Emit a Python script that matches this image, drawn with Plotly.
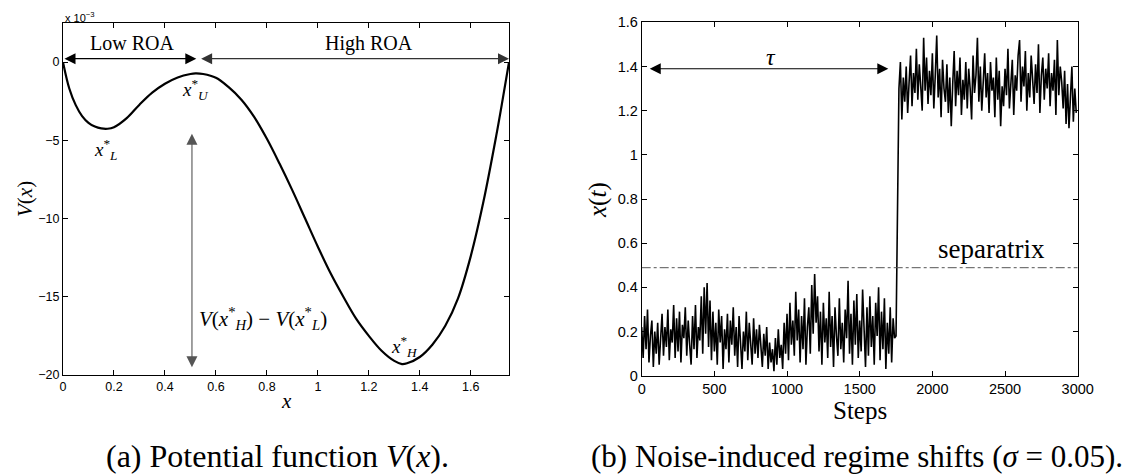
import plotly.graph_objects as go

W0, H0 = 1131, 476
OFF = 8  # page body margin
W, H = W0 - OFF, H0 - OFF

# (a) potential function, V in units of 1e-3
pot_x = [0, 0.025, 0.05, 0.075, 0.1, 0.125, 0.15, 0.175, 0.2, 0.25, 0.3, 0.35, 0.4, 0.45,
         0.5, 0.52, 0.55, 0.6, 0.65, 0.7, 0.75, 0.8, 0.85, 0.9, 0.95, 1.0, 1.05, 1.1, 1.15,
         1.2, 1.25, 1.3, 1.33, 1.35, 1.4, 1.45, 1.5, 1.55, 1.6, 1.65, 1.7, 1.725, 1.75]
pot_v = [0, -1.7, -2.75, -3.45, -3.88, -4.12, -4.24, -4.26, -4.16, -3.58, -2.72, -1.95, -1.38, -0.98,
         -0.76, -0.72, -0.76, -1.0, -1.6, -2.4, -3.5, -4.9, -6.5, -8.2, -10.0, -11.8, -13.5, -15.0, -16.4,
         -17.5, -18.45, -19.1, -19.3, -19.25, -18.85, -18.05, -16.85, -15.1, -12.4, -8.9, -4.7, -2.4, 0]

# (b) simulated trajectory, one value every 10 steps
steps = list(range(0, 3000, 10))
x_t = [
    0.22, 0.08, 0.27, 0.12, 0.30, 0.06, 0.18, 0.25, 0.04, 0.20,
    0.10, 0.24, 0.05, 0.19, 0.28, 0.09, 0.22, 0.13, 0.30, 0.07,
    0.21, 0.15, 0.32, 0.08, 0.26, 0.11, 0.29, 0.06, 0.23, 0.17,
    0.31, 0.09, 0.25, 0.14, 0.05, 0.27, 0.12, 0.32, 0.08, 0.22,
    0.16, 0.36, 0.10, 0.40, 0.19, 0.42, 0.13, 0.34, 0.07, 0.29,
    0.11, 0.24, 0.05, 0.30, 0.15, 0.27, 0.03, 0.21, 0.12, 0.28,
    0.06, 0.25, 0.14, 0.31, 0.09, 0.22, 0.04, 0.27, 0.16, 0.03,
    0.20, 0.11, 0.29, 0.07, 0.24, 0.13, 0.05, 0.26, 0.10, 0.21,
    0.08, 0.23, 0.14, 0.04, 0.19, 0.09, 0.22, 0.03, 0.15, 0.06,
    0.12, 0.02, 0.17, 0.05, 0.21, 0.08, 0.14, 0.03, 0.24, 0.10,
    0.28, 0.07, 0.33, 0.14, 0.25, 0.09, 0.38, 0.16, 0.30, 0.06,
    0.27, 0.12, 0.35, 0.05, 0.22, 0.31, 0.10, 0.41, 0.19, 0.46,
    0.24, 0.36, 0.11, 0.29, 0.05, 0.33, 0.15, 0.26, 0.08, 0.38,
    0.13, 0.27, 0.04, 0.31, 0.18, 0.09, 0.35, 0.12, 0.24, 0.06,
    0.30, 0.17, 0.43, 0.10, 0.28, 0.05, 0.34, 0.14, 0.37, 0.08,
    0.25, 0.11, 0.39, 0.16, 0.04, 0.31, 0.09, 0.36, 0.13, 0.27,
    0.05, 0.33, 0.18, 0.40, 0.07, 0.29, 0.12, 0.35, 0.03, 0.24,
    0.10, 0.31, 0.06, 0.26, 0.17, 0.18, 0.85, 1.30, 1.42, 1.16,
    1.35, 1.24, 1.40, 1.19, 1.33, 1.45, 1.22, 1.37, 1.28, 1.48,
    1.25, 1.41, 1.31, 1.20, 1.53, 1.29, 1.44, 1.23, 1.38, 1.27,
    1.46, 1.21, 1.36, 1.54, 1.26, 1.39, 1.17, 1.43, 1.30, 1.24,
    1.41, 1.19, 1.35, 1.13, 1.32, 1.47, 1.22, 1.38, 1.27, 1.44,
    1.18, 1.34, 1.25, 1.42, 1.21, 1.39, 1.30, 1.16, 1.45, 1.28,
    1.36, 1.53, 1.24, 1.40, 1.20, 1.33, 1.46, 1.26, 1.37, 1.19,
    1.42, 1.29, 1.35, 1.17, 1.44, 1.25, 1.38, 1.13, 1.31, 1.22,
    1.39, 1.27, 1.48, 1.21, 1.34, 1.43, 1.18, 1.36, 1.29, 1.45,
    1.52, 1.24, 1.40, 1.31, 1.47, 1.20, 1.37, 1.26, 1.45, 1.33,
    1.23, 1.41, 1.28, 1.50, 1.19, 1.36, 1.44, 1.25, 1.39, 1.30,
    1.46, 1.22, 1.37, 1.29, 1.43, 1.18, 1.52, 1.27, 1.40, 1.33,
    1.21, 1.38, 1.14, 1.32, 1.12, 1.26, 1.40, 1.15, 1.30, 1.19,
]
separatrix = 0.489

SANS = "Liberation Sans, Arial, sans-serif"
SERIF = "Liberation Serif, Times New Roman, serif"


def px(x, y):
    # page pixel -> paper coords
    return (x - OFF) / W, 1 - (y - OFF) / H


def xdom(a, b):
    return [px(a, 0)[0], px(b, 0)[0]]


def ydom(top, bottom):
    return [px(0, bottom)[1], px(0, top)[1]]


def axis_style(size, **kw):
    d = dict(
        showline=True, linecolor="black", linewidth=1, mirror="ticks",
        ticks="inside", ticklen=5, tickcolor="black", showgrid=False, zeroline=False,
        automargin=False, tickfont=dict(family=SANS, size=size, color="black"),
    )
    d.update(kw)
    return d


fig = go.Figure()

fig.add_trace(go.Scatter(
    x=pot_x, y=pot_v, mode="lines", line=dict(color="black", width=2.2, shape="spline"),
    xaxis="x", yaxis="y", showlegend=False,
))
fig.add_trace(go.Scatter(
    x=steps, y=x_t, mode="lines", line=dict(color="black", width=1.6),
    xaxis="x2", yaxis="y2", showlegend=False,
))

ann = []


def arrow(x0, y0, x1, y1, xr, yr, color="black"):
    ann.append(dict(
        x=x1, y=y1, ax=x0, ay=y0, xref=xr, yref=yr, axref=xr, ayref=yr, text="",
        showarrow=True, arrowhead=2, arrowsize=2.0, arrowwidth=1.1, arrowcolor=color,
        arrowside="end+start", standoff=0, startstandoff=0,
    ))


def label(x, y, text, xr, yr, size=20, xanchor="center", family=SERIF, angle=0):
    ann.append(dict(
        x=x, y=y, xref=xr, yref=yr, text=text, showarrow=False, xanchor=xanchor,
        yanchor="middle", textangle=angle, font=dict(family=family, size=size, color="black"),
    ))


# panel (a)
arrow(0.0, 0.22, 0.523, 0.22, "x", "y")
arrow(0.536, 0.22, 1.75, 0.22, "x", "y", color="#333333")
arrow(0.506, -4.48, 0.506, -19.5, "x", "y", color="#555555")
label(0.27, 1.2, "Low ROA", "x", "y")
label(1.2, 1.2, "High ROA", "x", "y")
label(0.52, -1.75, "<i>x</i><sup>*</sup><sub><i>U</i></sub>", "x", "y", size=19)
label(0.17, -5.6, "<i>x</i><sup>*</sup><sub><i>L</i></sub>", "x", "y", size=19)
label(1.34, -18.2, "<i>x</i><sup>*</sup><sub><i>H</i></sub>", "x", "y", size=19)
label(0.525, -16.4, "<i>V</i>(<i>x</i><sup>*</sup><sub><i>H</i></sub>) − <i>V</i>(<i>x</i><sup>*</sup><sub><i>L</i></sub>)",
      "x", "y", size=21, xanchor="left")

# panel (b)
arrow(45, 1.39, 1697, 1.39, "x2", "y2")
label(890, 1.445, "<i>τ</i>", "x2", "y2", size=24)
label(2408, 0.575, "separatrix", "x2", "y2", size=27)

# axis titles and captions
xx, yy = px(63, 17)
label(xx, yy, "x 10<sup>−3</sup>", "paper", "paper", size=11, xanchor="left", family=SANS)
xx, yy = px(25, 199)
label(xx, yy, "<i>V</i>(<i>x</i>)", "paper", "paper", size=21, angle=-90)
xx, yy = px(286, 401)
label(xx, yy, "<i>x</i>", "paper", "paper", size=21)
xx, yy = px(598, 200)
label(xx, yy, "<i>x</i>(<i>t</i>)", "paper", "paper", size=25, angle=-90)
xx, yy = px(860, 410)
label(xx, yy, "Steps", "paper", "paper", size=25)
xx, yy = px(277, 456)
label(xx, yy, "(a) Potential function <i>V</i>(<i>x</i>).", "paper", "paper", size=32)
xx, yy = px(857, 456)
label(xx, yy, "(b) Noise-induced regime shifts (<i>σ</i> = 0.05).", "paper", "paper", size=31)

fig.update_layout(
    width=W, height=H,
    margin=dict(l=0, r=0, t=0, b=0),
    paper_bgcolor="white", plot_bgcolor="white",
    showlegend=False,
    xaxis=axis_style(12.5, domain=xdom(63, 509), range=[0, 1.75],
                     tickvals=[0, 0.2, 0.4, 0.6, 0.8, 1, 1.2, 1.4, 1.6], anchor="y"),
    yaxis=axis_style(12.5, domain=ydom(23, 375), range=[-20, 2.5],
                     tickvals=[-20, -15, -10, -5, 0], anchor="x"),
    xaxis2=axis_style(14.5, domain=xdom(641.7, 1077.7), range=[0, 3000],
                      tickvals=[0, 500, 1000, 1500, 2000, 2500, 3000], anchor="y2"),
    yaxis2=axis_style(14.5, domain=ydom(22.3, 375.7), range=[0, 1.6],
                      tickvals=[0, 0.2, 0.4, 0.6, 0.8, 1, 1.2, 1.4, 1.6], anchor="x2"),
    shapes=[dict(type="line", xref="x2", yref="y2", x0=0, x1=3000, y0=separatrix, y1=separatrix,
                 line=dict(color="#555555", width=1, dash="dashdot"))],
    annotations=ann,
)

fig.write_html("out.html")
